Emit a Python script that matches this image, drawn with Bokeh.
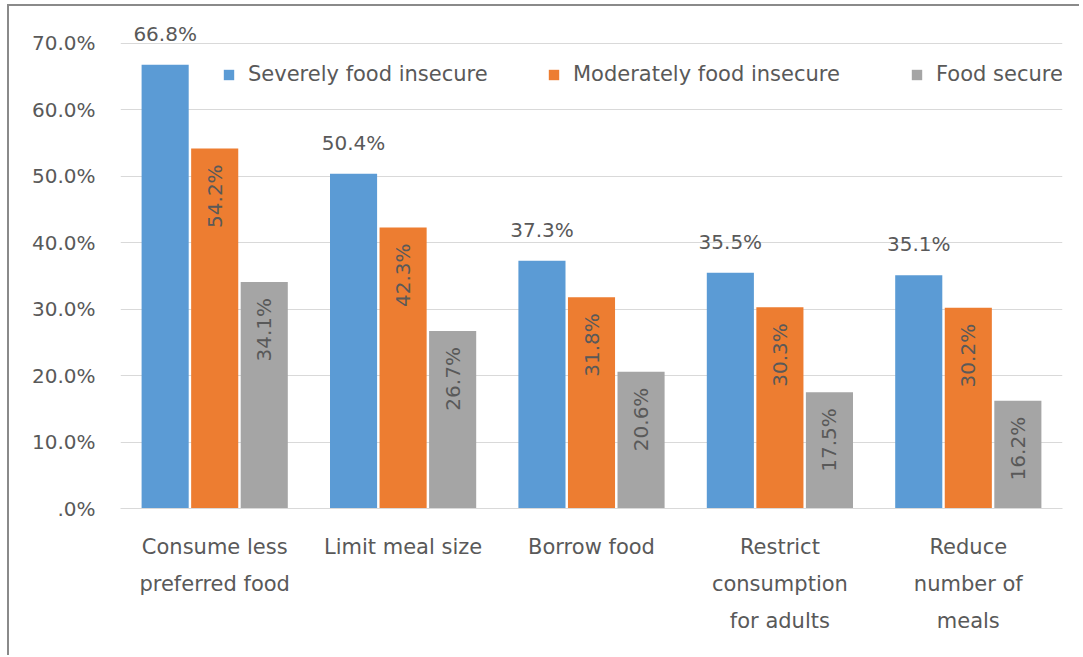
import math
from bokeh.plotting import figure
from bokeh.models import (ColumnDataSource, FactorRange, Range1d, FixedTicker,
                          PrintfTickFormatter, Legend, LegendItem)
from bokeh.transform import dodge
from bokeh.core.properties import value
from bokeh.embed import file_html
from bokeh.resources import INLINE

categories = ["Consume less\npreferred food", "Limit meal size", "Borrow food",
              "Restrict\nconsumption\nfor adults", "Reduce\nnumber of\nmeals"]
severe = [66.8, 50.4, 37.3, 35.5, 35.1]
moderate = [54.2, 42.3, 31.8, 30.3, 30.2]
secure = [34.1, 26.7, 20.6, 17.5, 16.2]
series_names = ["Severely food insecure", "Moderately food insecure", "Food secure"]
y_ticks = [0, 10, 20, 30, 40, 50, 60, 70]

FONT = "DejaVu Sans"
TXT = "#595959"
COLORS = ["#5B9BD5", "#ED7D31", "#A5A5A5"]

src = ColumnDataSource(dict(
    cat=categories, severe=severe, moderate=moderate, secure=secure,
    severe_lbl=[f"{v:.1f}%" for v in severe],
    moderate_lbl=[f"{v:.1f}%" for v in moderate],
    secure_lbl=[f"{v:.1f}%" for v in secure],
))

p = figure(x_range=FactorRange(*categories), y_range=Range1d(0, 74.5),
           width=1072, height=651, output_backend="svg", toolbar_location=None,
           min_border_left=111, min_border_right=19, min_border_top=7,
           min_border_bottom=149)
p.outline_line_color = None
p.border_fill_color = "white"
p.background_fill_color = "white"
p.styles = {"margin-left": "7px", "margin-top": "4px",
            "border-left": "2px solid #8a8a8a", "border-top": "2px solid #8a8a8a"}

off = 0.263
bw = 0.25
cols = ["severe", "moderate", "secure"]
offsets = [-off, 0, off]
renderers = []
for c, o, col in zip(cols, offsets, COLORS):
    r = p.vbar(x=dodge("cat", o, range=p.x_range), top=c, width=bw, source=src,
               fill_color=col, line_color=None)
    renderers.append(r)

# labels
p.text(x=dodge("cat", -off, range=p.x_range), y="severe", text="severe_lbl", source=src,
       text_align="center", text_baseline="alphabetic", y_offset=-31,
       text_font=value(FONT), text_font_size="20px", text_color=TXT)
for c, o in [("moderate", 0), ("secure", off)]:
    p.text(x=dodge("cat", o, range=p.x_range), y=c, text=c + "_lbl", source=src,
           angle=math.pi / 2, text_align="right", text_baseline="middle", y_offset=16,
           text_font=value(FONT), text_font_size="20px", text_color=TXT)

# axes
p.xaxis.axis_line_color = "#d9d9d9"
p.xaxis.major_tick_line_color = None
p.xaxis.major_tick_out = 0
p.xaxis.major_label_standoff = 26
p.xaxis.major_label_text_font = FONT
p.xaxis.major_label_text_font_size = "21px"
p.xaxis.major_label_text_color = TXT
p.xaxis.major_label_text_line_height = 1.55

p.yaxis.axis_line_color = None
p.yaxis.major_tick_line_color = None
p.yaxis.minor_tick_line_color = None
p.yaxis.major_tick_out = 0
p.yaxis.major_tick_in = 0
p.yaxis.ticker = FixedTicker(ticks=y_ticks)
p.yaxis.formatter = PrintfTickFormatter(format="%.1f%%")
p.yaxis.major_label_overrides = {0: ".0%"}
p.yaxis.major_label_standoff = 25
p.yaxis.major_label_text_font = FONT
p.yaxis.major_label_text_font_size = "20px"
p.yaxis.major_label_text_color = TXT

p.xgrid.grid_line_color = None
p.ygrid.grid_line_color = "#d9d9d9"

# legends (one per item to place exactly)
for r, name, xloc in zip(renderers, series_names, [102, 427, 790]):
    lg = Legend(items=[LegendItem(label=name, renderers=[r])], location=(xloc, 422),
                orientation="horizontal", padding=0, margin=0, spacing=0,
                border_line_color=None, background_fill_alpha=0,
                glyph_width=13, glyph_height=13, label_standoff=13,
                label_text_font=FONT, label_text_font_size="21px",
                label_text_color=TXT)
    p.add_layout(lg)

open("out.html", "w").write(file_html(p, INLINE))
